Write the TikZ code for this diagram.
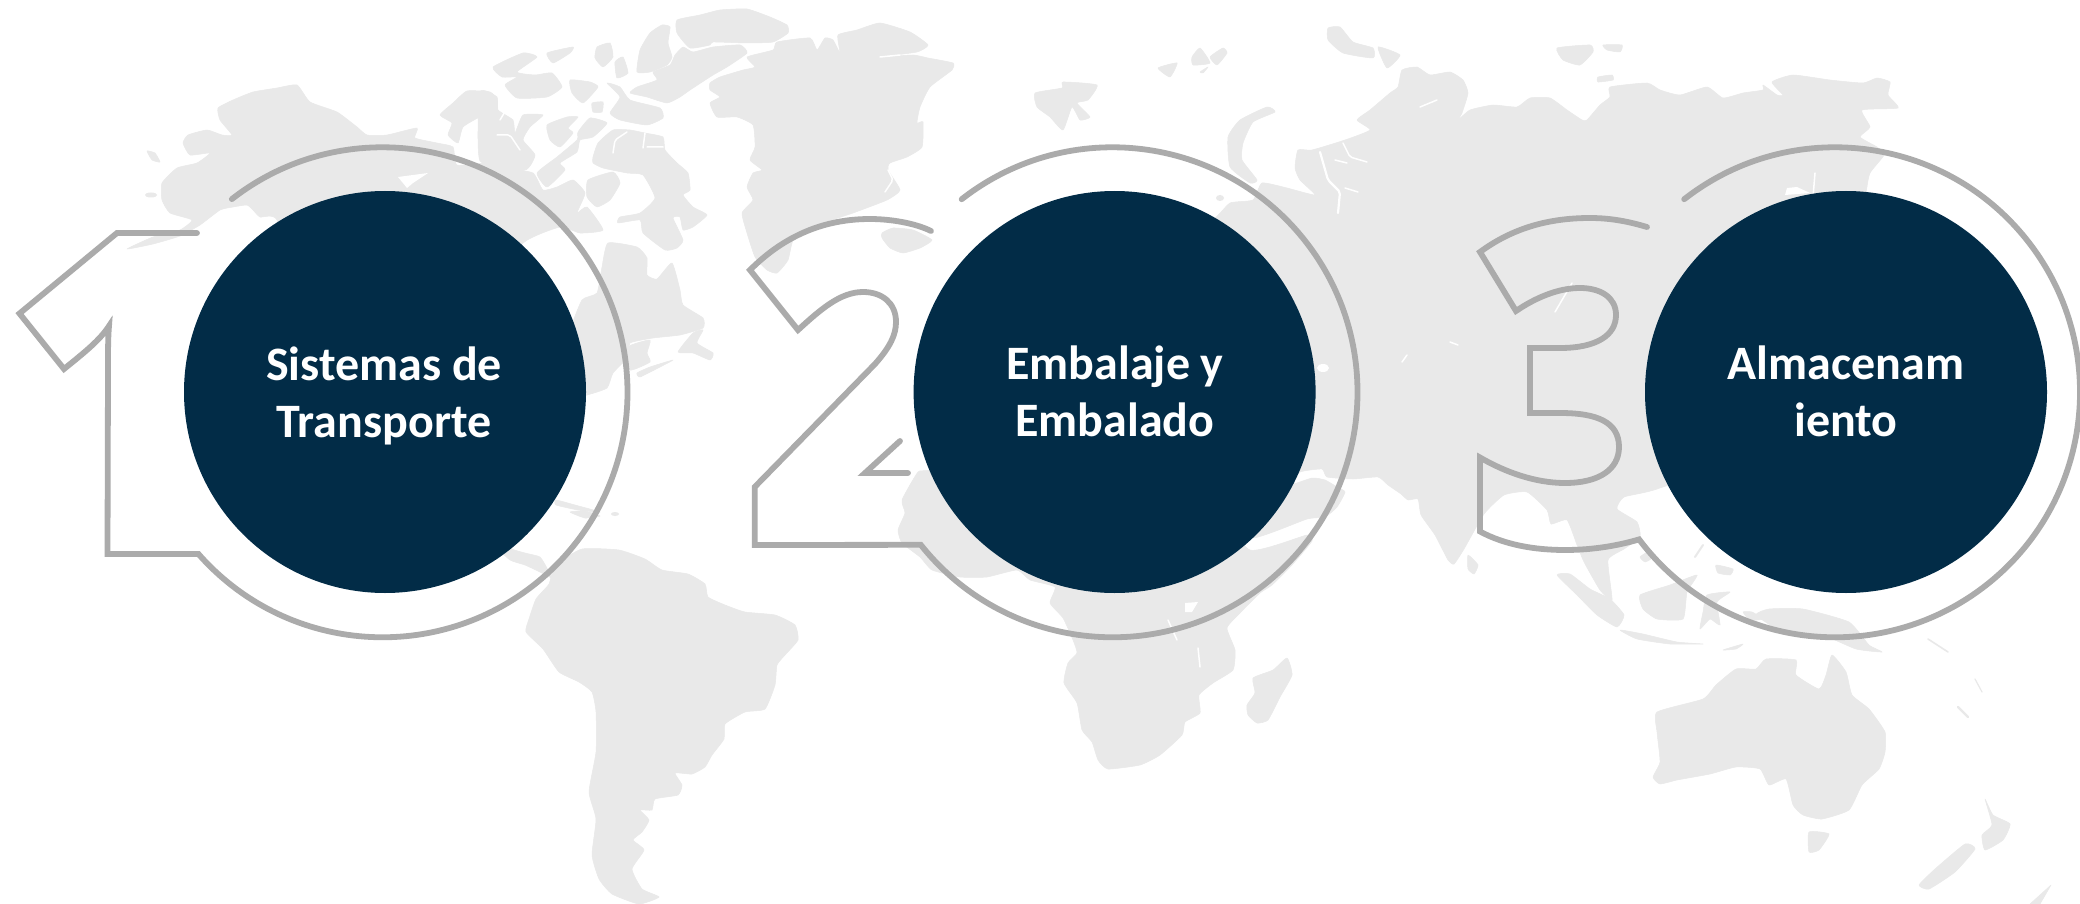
\documentclass[tikz,border=0pt]{standalone}
\usepackage{fontspec}
\setmainfont{Carlito}
\definecolor{landgray}{HTML}{E9E9E9}
\definecolor{ringgray}{HTML}{ABABAB}
\definecolor{discblue}{HTML}{022C47}
\newcommand{\landpoly}[1]{\filldraw[landfill] plot[smooth cycle,tension=0.3] coordinates {#1};}
\newcommand{\sharppoly}[1]{\filldraw[landfill] plot coordinates {#1} -- cycle;}
\tikzset{
  landfill/.style={fill=landgray,draw=landgray,line width=.5pt,line join=round},
  sealine/.style={draw=white,line width=1.5pt,line cap=round,line join=round,rounded corners=2pt},
  seafill/.style={fill=white},
  outline/.style={draw=ringgray,line width=5.8pt,line cap=round,miter limit=10},
  disc/.style={circle,fill=discblue,minimum size=402pt,inner sep=0pt},
  caption/.style={text=white,font=\bfseries\fontsize{48}{56.5}\selectfont,align=center,inner sep=0pt},
}
\begin{document}
\begin{tikzpicture}[x=1pt,y=1pt,yscale=-1]
\path[use as bounding box] (0,0) rectangle (2080,904);
\clip (0,0) rectangle (2080,904);
\fill[white] (0,0) rectangle (2080,904);
% ---------- map: North America
\landpoly{(127,249) (153,237) (180,230) (192,220) (170,213) (162,200) (162,183) (177,168) (197,163) (210,153) (190,155) (183,143) (188,135) (207,130) (222,135) (232,135) (220,120) (218,108) (233,100) (253,92) (277,88) (297,85) (310,102) (337,112) (357,127) (367,135) (387,135) (417,128) (415,138) (437,143) (453,147) (457,165) (487,163) (507,168) (533,173) (543,190) (557,187) (573,180) (585,193) (577,213) (587,207) (603,230) (580,233) (560,227) (523,243) (480,300) (400,330) (300,300) (277,220) (260,217) (253,210) (247,205) (233,207) (220,210) (200,225) (180,236) (153,244)}
\landpoly{(440,115) (453,103) (467,91) (490,92) (497,100) (497,114) (480,117) (463,127) (458,143) (448,135) (452,123)}
\landpoly{(677,20) (700,15) (720,10) (747,9) (770,17) (787,25) (788,33) (773,42) (747,43) (713,42) (710,45) (690,48) (677,33)}
\landpoly{(640,50) (650,33) (662,25) (670,27) (668,43) (672,57) (667,65) (650,72) (637,72)}
\landpoly{(675,55) (683,47) (693,52) (713,47) (740,45) (747,53) (727,67) (713,75) (690,90) (680,97) (667,103) (647,97) (630,93) (637,87) (657,80) (653,72) (670,65)}
\landpoly{(597,47) (610,43) (613,57) (603,67) (595,58)}
\landpoly{(615,62) (623,57) (628,73) (617,78)}
\landpoly{(493,67) (523,53) (537,57) (517,72) (535,75) (552,73) (562,87) (547,97) (517,98) (505,85) (517,77) (502,77)}
\landpoly{(547,53) (573,47) (570,53) (553,63)}
\landpoly{(570,80) (590,82) (598,87) (583,103) (572,93)}
\landpoly{(607,83) (620,87) (630,100) (660,108) (663,118) (647,125) (620,120) (610,113) (620,97)}
\landpoly{(592,103) (603,102) (602,112) (593,112)}
\landpoly{(480,92) (497,97) (498,110) (513,120) (515,133) (523,115) (543,115) (530,127) (523,140) (535,155) (525,170) (480,161)}
\landpoly{(547,125) (567,117) (578,117) (568,128) (573,133) (560,147) (550,140)}
\landpoly{(578,132) (590,118) (607,123) (593,137) (580,140) (577,152) (560,163) (565,170) (547,187) (537,173) (557,157) (577,140)}
\landpoly{(593,157) (598,143) (613,130) (630,130) (645,133) (663,137) (665,150) (677,163) (688,173) (690,190) (683,195) (693,207) (707,215) (693,227) (683,230) (680,217) (673,218) (683,240) (677,248) (665,250) (643,233) (640,220) (618,223) (620,217) (640,213) (655,198) (643,175) (627,173) (603,168) (593,163)}
\landpoly{(588,180) (613,172) (620,183) (610,200) (597,207) (587,197)}
\landpoly{(608,243) (637,247) (647,258) (647,275) (657,279) (672,263) (680,290) (683,305) (703,318) (703,328) (680,335) (653,338) (630,343) (628,357) (613,373) (607,388) (587,395) (570,397) (570,333) (582,300) (597,293) (602,267)}
\landpoly{(678,352) (693,333) (703,330) (697,343) (713,353) (710,360) (693,353)}
\landpoly{(637,373) (650,367) (673,360) (660,367) (640,377)}
\landpoly{(628,347) (650,340) (647,353) (650,362) (630,370)}
\landpoly{(147,151) (155,153) (160,162) (152,160)}
\fill[landgray] (151,195) ellipse [x radius=6,y radius=2.5];
\draw[sealine] (500,120) -- (512,100) -- (505,92);
\draw[sealine] (520,150) -- (510,135) -- (497,135);
\draw[sealine] (613,153) -- (615,140) -- (627,132);
\draw[sealine] (643,148) -- (645,133) (647,147) -- (663,147);
\fill[seafill] (398,177) -- (428,173) -- (413,183) -- (407,188) -- cycle;
\fill[seafill] (640,195) ellipse [x radius=5,y radius=3];
% Greenland, Iceland
\landpoly{(710,83) (720,77) (743,70) (755,67) (747,57) (773,50) (777,42) (810,38) (817,50) (825,38) (833,40) (840,53) (838,35) (857,30) (880,23) (910,32) (928,45) (917,52) (880,57) (913,55) (928,58) (953,63) (952,70) (930,87) (920,107) (917,123) (923,122) (922,147) (907,157) (890,163) (888,170) (900,190) (887,200) (853,213) (797,233) (788,260) (777,273) (767,270) (755,257) (747,233) (742,213) (753,200) (747,187) (753,173) (762,170) (750,160) (755,147) (753,125) (737,117) (717,117) (710,103) (720,97) (710,90)}
\landpoly{(882,233) (893,228) (913,230) (932,240) (920,248) (903,253) (890,248) (882,238)}
\draw[sealine] (888,170) -- (893,180) -- (885,192);
\draw[sealine] (880,57) -- (900,55);
% Caribbean, Central and South America
\landpoly{(495,530) (510,548) (525,553) (540,557) (548,570) (552,578) (540,572) (525,565) (510,560) (495,545)}
\landpoly{(556,500) (575,505) (600,512) (578,510) (556,505)}
\landpoly{(570,512) (585,511) (600,516) (585,518)}
\fill[landgray] (615,514) ellipse [x radius=4,y radius=2];
\landpoly{(582,549) (619,550) (645,559) (662,570) (688,574) (705,584) (708,597) (725,605) (745,612) (775,615) (795,625) (798,640) (785,655) (777,665) (775,685) (765,709) (745,712) (725,724) (724,739) (712,755) (705,767) (692,774) (675,773) (682,785) (678,795) (655,799) (652,810) (640,810) (649,820) (642,832) (633,840) (644,850) (632,869) (642,889) (659,897) (639,904) (612,894) (599,879) (592,855) (596,819) (589,792) (596,752) (596,712) (592,692) (579,682) (559,672) (543,649) (526,632) (529,619) (536,599) (549,584) (555,565)}
% Africa, Madagascar
\landpoly{(1000,450) (930,470) (918,472) (902,500) (905,513) (898,530) (902,543) (920,557) (932,570) (960,577) (987,577) (1017,570) (1030,580) (1055,587) (1050,603) (1063,618) (1073,640) (1077,653) (1068,663) (1064,683) (1077,703) (1082,730) (1092,742) (1098,760) (1108,769) (1140,765) (1160,755) (1182,735) (1185,722) (1200,713) (1199,695) (1213,683) (1233,670) (1235,650) (1227,628) (1240,613) (1260,593) (1272,585) (1292,565) (1312,541) (1307,535) (1250,550) (1200,500)}
\fill[seafill] (1185,603) -- (1198,602) -- (1192,612) -- (1185,612) -- cycle;
\draw[sealine] (1168,620) -- (1177,640);
\draw[sealine] (1198,648) -- (1200,667);
\landpoly{(1287,658) (1292,675) (1280,697) (1268,720) (1257,723) (1248,715) (1247,705) (1255,693) (1253,678) (1273,670)}
% Eurasia
\landpoly{(1120,300) (1213,220) (1230,203) (1253,200) (1262,183) (1287,188) (1315,195) (1300,180) (1295,168) (1298,150) (1312,150) (1345,140) (1370,130) (1357,120) (1370,110) (1390,93) (1398,87) (1402,70) (1417,67) (1430,75) (1450,72) (1463,80) (1468,93) (1462,113) (1458,120) (1470,110) (1493,105) (1517,107) (1530,98) (1550,98) (1567,110) (1582,120) (1587,120) (1600,105) (1610,97) (1610,87) (1647,83) (1660,90) (1680,95) (1707,87) (1723,98) (1743,93) (1763,90) (1763,85) (1777,95) (1783,95) (1772,82) (1793,75) (1830,80) (1863,83) (1877,78) (1890,82) (1888,95) (1898,108) (1862,110) (1870,127) (1860,137) (1877,147) (1884,155) (1870,173) (1866,193) (1850,300) (1750,450) (1657,489) (1624,497) (1617,509) (1637,522) (1640,537) (1624,549) (1608,560) (1612,600) (1600,590) (1584,562) (1577,545) (1567,520) (1551,524) (1547,510) (1527,492) (1504,495) (1484,514) (1464,549) (1454,564) (1448,560) (1435,535) (1421,515) (1418,499) (1408,500) (1401,494) (1388,485) (1378,477) (1353,479) (1327,477) (1322,469) (1300,472) (1290,485) (1312,478) (1325,480) (1337,487) (1345,492) (1337,507) (1325,517) (1307,519) (1252,538) (1220,510) (1120,400)}
\landpoly{(1267,107) (1275,112) (1253,122) (1243,143) (1242,160) (1257,180) (1250,183) (1230,167) (1228,137) (1240,120)}
\landpoly{(1035,93) (1062,88) (1063,82) (1097,85) (1088,100) (1077,103) (1090,117) (1080,120) (1072,107) (1063,130) (1050,117) (1037,107)}
\landpoly{(1158,68) (1177,63) (1170,77)}
\landpoly{(1192,57) (1200,48) (1210,63) (1193,65)}
\landpoly{(1210,57) (1223,48) (1227,53) (1217,65)}
\landpoly{(1200,72) (1208,67) (1203,73)}
\landpoly{(1328,28) (1340,27) (1353,42) (1373,48) (1373,58) (1343,53) (1328,40)}
\landpoly{(1378,47) (1400,55) (1387,68)}
\landpoly{(1557,48) (1590,45) (1593,52) (1580,65) (1563,60)}
\landpoly{(1603,45) (1622,45) (1620,52) (1607,50)}
\landpoly{(1598,77) (1612,75) (1613,80) (1598,82)}
\fill[landgray] (1220,198) ellipse [x radius=4,y radius=3];
\draw[sealine,line width=2.2pt] (1320,152) -- (1328,180) -- (1340,192) -- (1338,213);
\draw[sealine] (1343,143) -- (1350,157) -- (1367,162);
\draw[sealine] (1335,160) -- (1347,163);
\draw[sealine] (1345,188) -- (1358,192);
\draw[sealine] (1420,107) -- (1437,100);
\draw[sealine] (1402,362) -- (1407,355);
\draw[sealine] (1450,342) -- (1458,345);
\draw[sealine] (1555,312) -- (1572,283);
\draw[sealine] (1815,173) -- (1813,197);
\fill[seafill] (1323,368) ellipse [x radius=6,y radius=4];
\fill[seafill] (1785,195) -- (1787,188) -- (1797,187) -- (1810,193) -- cycle;
% South-East Asia and the islands
\landpoly{(1468,555) (1478,565) (1474,574) (1468,569)}
\landpoly{(1557,575) (1570,574) (1590,589) (1610,599) (1624,615) (1617,627) (1597,615) (1577,595)}
\landpoly{(1620,630) (1643,634) (1677,642) (1703,644) (1670,644) (1637,639)}
\landpoly{(1723,650) (1743,644) (1736,649)}
\landpoly{(1640,595) (1670,585) (1697,575) (1687,592) (1683,619) (1657,619) (1643,609)}
\landpoly{(1703,612) (1707,595) (1730,592) (1717,602) (1720,625) (1710,619) (1700,629)}
\landpoly{(1716,565) (1733,569) (1730,575) (1718,573)}
\landpoly{(1769,609) (1803,609) (1849,622) (1869,645) (1882,652) (1856,649) (1822,635) (1783,632) (1756,615)}
\landpoly{(1743,612) (1752,612) (1763,619) (1750,620)}
\landpoly{(1640,557) (1648,552) (1652,558) (1645,562)}
\draw[landgray,line width=2pt,line cap=round] (1695,557) -- (1703,545);
\draw[landgray,line width=1.6pt,line cap=round] (1928,639) -- (1948,652);
\draw[landgray,line width=2.2pt,line cap=round] (1958,707) -- (1968,717);
\draw[landgray,line width=1.2pt,line cap=round] (1975,679) -- (1982,692);
% Australia, New Zealand
\landpoly{(1766,659) (1796,660) (1796,675) (1819,689) (1826,675) (1832,655) (1846,672) (1852,695) (1869,709) (1885,732) (1885,752) (1879,769) (1862,785) (1849,810) (1822,819) (1803,815) (1793,805) (1786,779) (1769,785) (1760,769) (1736,767) (1710,774) (1677,780) (1660,784) (1653,777) (1660,762) (1657,732) (1657,712) (1703,699) (1716,685) (1736,669) (1756,669)}
\landpoly{(1809,832) (1829,834) (1819,850) (1809,852)}
\landpoly{(1985,799) (1993,815) (2010,824) (2003,840) (1985,850) (1982,835) (1992,825)}
\landpoly{(1965,844) (1975,849) (1955,872) (1929,889) (1919,885) (1935,869)}
\sharppoly{(2051,885) (2030,904) (2040,904)}
% ---------- outlined digits joined to their rings
\draw[outline] (382.5,392.3) ++(-127.95:245) arc[start angle=-127.95,end angle=138.7,radius=245] -- (107.5,554) -- (108,370) .. controls (108,350) and (108,338) .. (109,326) .. controls (100,340) and (85,352) .. (64,369) -- (19.5,313.5) -- (117,233) -- (197,233);
\draw[outline] (1112.5,392.3) ++(-128:245) arc[start angle=-128,end angle=141.5,radius=245] -- (754.7,545) -- (754.7,487) -- (875,364) .. controls (890,347) and (896,335) .. (896,322) .. controls (896,303) and (882,292) .. (863,292) .. controls (840,292) and (820,310) .. (798,330) -- (750,270) .. controls (785,235) and (825,219) .. (870,219) .. controls (890,219) and (915,223) .. (931,231);
\draw[outline] (900,441) -- (865,473) -- (908,473);
\draw[outline] (1835,392.3) ++(-128:245) arc[start angle=-128,end angle=143.1,radius=245] .. controls (1620,545) and (1595,550) .. (1565,550) .. controls (1535,550) and (1505,545) .. (1480,531.5) -- (1480,457.5) .. controls (1505,472) and (1535,483) .. (1565,483) .. controls (1598,483) and (1619,470) .. (1619,447) .. controls (1619,422) and (1597,413) .. (1560,413) -- (1530,413) -- (1530,348) -- (1560,348) .. controls (1597,348) and (1616,335) .. (1616,315) .. controls (1616,297) and (1600,288) .. (1580,288) .. controls (1558,288) and (1535,298) .. (1516,311) -- (1480,252) .. controls (1510,230) and (1545,218) .. (1590,218) .. controls (1612,218) and (1630,222) .. (1647,227);
% ---------- discs and captions
\node[disc] (d1) at (385,392) {};
\node[disc] (d2) at (1114.6,392) {};
\node[disc] (d3) at (1846,392) {};
\node[caption] (t1) at (384,396) {Sistemas de\\Transporte};
\node[caption] (t2) at (1115,391.5) {Embalaje y\\Embalado};
\node[caption] (t3) at (1846,391.5) {Almacenam\\iento};
\end{tikzpicture}
\end{document}
